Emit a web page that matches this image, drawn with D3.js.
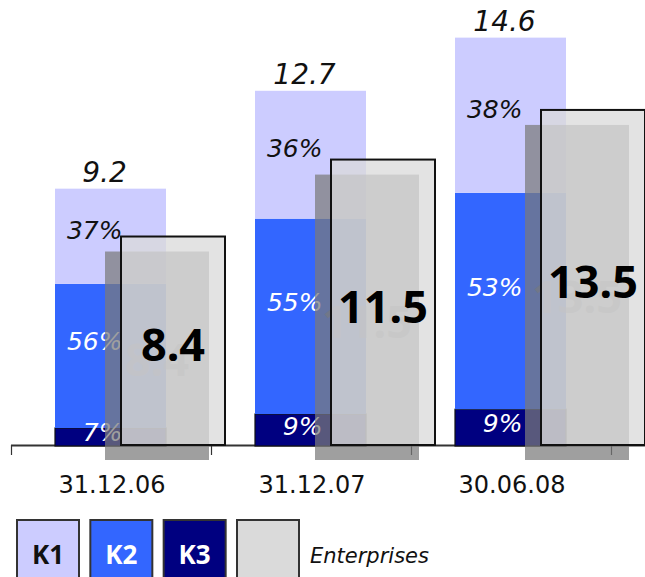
<!DOCTYPE html>
<html>
<head>
<meta charset="utf-8">
<script src="https://cdn.jsdelivr.net/npm/d3@7"></script>
<style>
  html, body { margin: 0; padding: 0; background: #fff; }
  svg { display: block; }
</style>
</head>
<body>
<svg id="chart" width="645" height="577"></svg>
<script>
// Volumes per reporting date (EUR bn) and split by rating class
const categories = ["31.12.06", "31.12.07", "30.06.08"];
const totals = [9.2, 12.7, 14.6];
const shareK1 = [37, 36, 38];
const shareK2 = [56, 55, 53];
const shareK3 = [7, 9, 9];
const enterprises = [8.4, 11.5, 13.5];

const seriesKeys = ["K3", "K2", "K1"];
const seriesColors = { K1: "#ccccff", K2: "#3366ff", K3: "#000080" };
const labelColors = { K1: "#111111", K2: "#ffffff", K3: "#ffffff" };
const labelLift = { K1: 6, K2: 14, K3: 4 };
const legendKeys = ["K1", "K2", "K3"];
const legendEnterprises = "Enterprises";

const svg = d3.select("#chart");
const baseY = 445;

// scales
const x = d3.scaleBand().domain(categories).range([11, 611]);
const xE = d3.scaleBand().domain(categories).range([116, 746]);
const y = d3.scaleLinear().domain([0, 16]).range([baseY + 1, baseY + 1 - 16 * 27.97]);
const yE = d3.scaleLinear().domain([0, 16]).range([baseY, baseY - 16 * 24.82]);

const barX = c => x(c) + x.bandwidth() * 0.22;
const barW = x.bandwidth() * 0.555;
const boxX = c => xE(c) + 5;
const boxW = 104;
const shOff = { dx: -16, dy: 15 };

// stacked rows
const rows = categories.map((c, i) => ({
  cat: c, total: totals[i],
  K1: totals[i] * shareK1[i] / 100,
  K2: totals[i] * shareK2[i] / 100,
  K3: totals[i] * shareK3[i] / 100,
  pK1: shareK1[i], pK2: shareK2[i], pK3: shareK3[i],
  ent: enterprises[i]
}));
const stack = d3.stack().keys(seriesKeys)(rows);

// axis line and boundary ticks
svg.append("line")
  .attr("x1", x.range()[0]).attr("x2", 645)
  .attr("y1", baseY + 0.5).attr("y2", baseY + 0.5)
  .attr("stroke", "#333").attr("stroke-width", 2);
const tickPos = categories.map(c => x(c)).concat([x(categories[categories.length - 1]) + x.bandwidth()]);
svg.selectAll("line.tick").data(tickPos).join("line")
  .attr("class", "tick")
  .attr("x1", d => d + 0.5).attr("x2", d => d + 0.5)
  .attr("y1", baseY).attr("y2", baseY + 10)
  .attr("stroke", "#333").attr("stroke-width", 1.2);

// stacked bars
const layers = svg.append("g");
stack.forEach(layer => {
  layers.selectAll(null).data(layer).join("rect")
    .attr("x", d => barX(d.data.cat))
    .attr("width", barW)
    .attr("y", d => y(d[1]))
    .attr("height", d => y(d[0]) - y(d[1]))
    .attr("fill", seriesColors[layer.key])
    .attr("stroke", layer.key === "K3" ? "#111" : "none")
    .attr("stroke-width", layer.key === "K3" ? 1.2 : 0);
});

// share labels inside segments
stack.forEach(layer => {
  svg.selectAll(null).data(layer).join("text")
    .attr("x", d => barX(d.data.cat) + barW / 2 + 12)
    .attr("y", d => (y(d[0]) + y(d[1])) / 2 - labelLift[layer.key])
    .attr("text-anchor", "end")
    .attr("dominant-baseline", "central")
    .attr("font-family", "DejaVu Sans")
    .attr("font-style", "italic")
    .attr("font-size", 25)
    .attr("fill", labelColors[layer.key])
    .text(d => d.data["p" + layer.key] + "%");
});

// totals above bars
svg.selectAll("text.total").data(rows).join("text")
  .attr("class", "total")
  .attr("x", d => barX(d.cat) + barW / 2 - 6)
  .attr("y", d => y(d.total) - 7)
  .attr("text-anchor", "middle")
  .attr("font-family", "DejaVu Sans")
  .attr("font-style", "italic")
  .attr("font-size", 28)
  .attr("fill", "#111")
  .text(d => d3.format(".1f")(d.total));

// enterprise bars: drop shadow with ghost label
const shadow = svg.append("g");
shadow.selectAll("rect").data(rows).join("rect")
  .attr("x", d => boxX(d.cat) + shOff.dx)
  .attr("y", d => yE(d.ent) + shOff.dy)
  .attr("width", boxW)
  .attr("height", d => yE(0) - yE(d.ent))
  .attr("fill", "#7a7a7a")
  .attr("fill-opacity", 0.72);
shadow.selectAll("text").data(rows).join("text")
  .attr("x", d => boxX(d.cat) + boxW / 2 + shOff.dx)
  .attr("y", d => (yE(d.ent) + yE(0)) / 2 + 3 + shOff.dy)
  .attr("text-anchor", "middle")
  .attr("dominant-baseline", "central")
  .attr("font-family", "Noto Sans")
  .attr("font-weight", "bold")
  .attr("font-size", 45)
  .attr("fill", "#7a7a7a")
  .attr("fill-opacity", 0.6)
  .text(d => d3.format(".1f")(d.ent));

// enterprise bars: framed translucent box
svg.selectAll("rect.ent").data(rows).join("rect")
  .attr("class", "ent")
  .attr("x", d => boxX(d.cat))
  .attr("y", d => yE(d.ent))
  .attr("width", boxW)
  .attr("height", d => yE(0) - yE(d.ent))
  .attr("fill", "#dbdbdb")
  .attr("fill-opacity", 0.77)
  .attr("stroke", "#111")
  .attr("stroke-width", 2);
svg.selectAll("text.ent").data(rows).join("text")
  .attr("class", "ent")
  .attr("x", d => boxX(d.cat) + boxW / 2)
  .attr("y", d => (yE(d.ent) + yE(0)) / 2 + 3)
  .attr("text-anchor", "middle")
  .attr("dominant-baseline", "central")
  .attr("font-family", "Noto Sans")
  .attr("font-weight", "bold")
  .attr("font-size", 45)
  .attr("fill", "#000")
  .text(d => d3.format(".1f")(d.ent));

// category labels
svg.selectAll("text.cat").data(categories).join("text")
  .attr("class", "cat")
  .attr("x", c => x(c) + x.bandwidth() / 2 + 1)
  .attr("y", 493)
  .attr("text-anchor", "middle")
  .attr("font-family", "DejaVu Sans")
  .attr("font-size", 24)
  .attr("fill", "#111")
  .text(c => c);

// legend
const legendX = d3.scalePoint().domain(legendKeys.concat([legendEnterprises])).range([17, 237]);
const legend = svg.append("g");
legend.selectAll("rect").data(legendKeys.concat([legendEnterprises])).join("rect")
  .attr("x", k => legendX(k))
  .attr("y", 520)
  .attr("width", 62)
  .attr("height", 70)
  .attr("fill", k => seriesColors[k] || "#dadada")
  .attr("stroke", "#333")
  .attr("stroke-width", 2);
legend.selectAll("text.key").data(legendKeys).join("text")
  .attr("class", "key")
  .attr("x", k => legendX(k) + 31)
  .attr("y", 564)
  .attr("text-anchor", "middle")
  .attr("font-family", "Noto Sans")
  .attr("font-weight", "bold")
  .attr("font-size", 26)
  .attr("fill", k => labelColors[k] === "#111111" ? "#111" : "#fff")
  .text(k => k);
legend.append("text")
  .attr("x", legendX(legendEnterprises) + 73)
  .attr("y", 563)
  .attr("font-family", "DejaVu Sans")
  .attr("font-style", "italic")
  .attr("font-size", 21)
  .attr("fill", "#111")
  .text(legendEnterprises);
</script>
</body>
</html>
